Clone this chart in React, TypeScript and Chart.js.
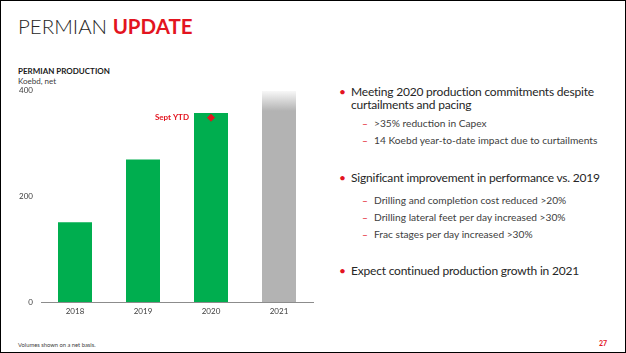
import React, { useEffect, useRef } from "react";
import { Chart, registerables } from "chart.js";

Chart.register(...registerables);

const categories = ["2018", "2019", "2020", "2021"];
const production = [151, 270, 358, 400];
const septYtd = [null, null, 349, null];
const yTicks = [0, 200, 400];

const GREEN = "#00ae4f";
const GRAY = "#b3b3b3";
const RED = "#e3141f";
const FONT = "Lato, 'Open Sans', sans-serif";

const bulletLines = [
  { kind: "main", text: "Meeting 2020 production commitments despite", y: 91 },
  { kind: "cont", text: "curtailments and pacing", y: 104 },
  { kind: "sub", text: ">35% reduction in Capex", y: 122 },
  { kind: "sub", text: "14 Koebd year-to-date impact due to curtailments", y: 139 },
  { kind: "main", text: "Significant improvement in performance vs. 2019", y: 177 },
  { kind: "sub", text: "Drilling and completion cost reduced >20%", y: 199 },
  { kind: "sub", text: "Drilling lateral feet per day increased >30%", y: 216 },
  { kind: "sub", text: "Frac stages per day increased >30%", y: 233 },
  { kind: "main", text: "Expect continued production growth in 2021", y: 270 },
];

const labelPlugin = {
  id: "septLabel",
  afterDatasetsDraw(chart: any) {
    const meta = chart.getDatasetMeta(1);
    const pt = meta.data[2];
    if (!pt) return;
    const c = chart.ctx;
    c.save();
    c.font = `bold 8px ${FONT}`;
    c.fillStyle = RED;
    c.textAlign = "right";
    c.textBaseline = "middle";
    c.fillText("Sept YTD", pt.x - 22, pt.y);
    c.restore();
  },
};

function ChartBox() {
  const ref = useRef<HTMLCanvasElement>(null);
  useEffect(() => {
    const chart = new Chart(ref.current!, {
      type: "bar",
      data: {
        labels: categories,
        datasets: [
          {
            type: "bar",
            data: production,
            barPercentage: 0.5,
            categoryPercentage: 1,
            backgroundColor: (ctx: any) => {
              if (ctx.dataIndex !== 3) return GREEN;
              const ch = ctx.chart;
              if (!ch.chartArea) return GRAY;
              const y = ch.scales.y;
              const g = ch.ctx.createLinearGradient(0, y.getPixelForValue(400), 0, y.getPixelForValue(362));
              g.addColorStop(0, "#f8f8f8");
              g.addColorStop(1, GRAY);
              return g;
            },
            order: 2,
          } as any,
          {
            type: "line",
            data: septYtd,
            showLine: false,
            pointStyle: "rectRot",
            pointRadius: 3.5,
            pointBackgroundColor: RED,
            pointBorderColor: RED,
            order: 1,
          } as any,
        ],
      },
      options: {
        animation: false,
        responsive: false,
        maintainAspectRatio: false,
        layout: { padding: { top: 0, right: 8, left: 0, bottom: 0 } },
        plugins: { legend: { display: false }, tooltip: { enabled: false } },
        scales: {
          x: {
            grid: { display: false, drawTicks: false },
            border: { display: true, color: "#8c8c8c", width: 1 },
            ticks: { color: "#404040", font: { size: 8, family: FONT }, padding: 5 },
            afterFit: (s: any) => { s.height = 19; },
          },
          y: {
            min: 0,
            max: 400,
            grid: { display: false, drawTicks: false },
            border: { display: false },
            afterBuildTicks: (s: any) => { s.ticks = yTicks.map((v) => ({ value: v })); },
            ticks: { color: "#404040", font: { size: 8, family: FONT }, padding: 8 },
            afterFit: (s: any) => { s.width = 40; },
          },
        },
      },
      plugins: [labelPlugin],
    } as any);
    return () => chart.destroy();
  }, []);
  return (
    <canvas
      ref={ref}
      width={320}
      height={243}
      style={{ position: "absolute", left: 0, top: 77, width: 320, height: 243 }}
    />
  );
}

export default function App() {
  const line = (l: any, i: number) => {
    const isMain = l.kind === "main" || l.kind === "cont";
    const size = isMain ? 12 : 10.2;
    const lh = Math.round(size * 1.2);
    const textX = isMain ? 350 : 373;
    const markX = isMain ? 338 : 361;
    return (
      <React.Fragment key={i}>
        {l.kind !== "cont" && (
          <div
            style={{
              position: "absolute",
              left: markX,
              top: l.y - lh / 2,
              lineHeight: `${lh}px`,
              fontSize: size,
              color: RED,
            }}
          >
            {l.kind === "main" ? "•" : "–"}
          </div>
        )}
        <div
          style={{
            position: "absolute",
            left: textX,
            top: l.y - lh / 2,
            lineHeight: `${lh}px`,
            fontSize: size,
            letterSpacing: isMain ? "-0.2px" : "0px",
            color: isMain ? "#262626" : "#404040",
            whiteSpace: "nowrap",
          }}
        >
          {l.text}
        </div>
      </React.Fragment>
    );
  };
  return (
    <div
      style={{
        position: "fixed",
        left: 0,
        top: 0,
        width: 626,
        height: 353,
        boxSizing: "border-box",
        border: "1px solid #000",
        background: "#fff",
        fontFamily: FONT,
        overflow: "hidden",
      }}
    >
      <div
        style={{
          position: "absolute",
          left: 17,
          top: 11,
          fontSize: 20.5,
          lineHeight: "28px",
          whiteSpace: "nowrap",
          color: "#262626",
        }}
      >
        <span style={{ fontWeight: 300 }}>PERMIAN </span>
        <span style={{ fontWeight: 700, color: RED }}>UPDATE</span>
      </div>
      <div style={{ position: "absolute", left: 17, top: 65, fontSize: 8, lineHeight: "10px", fontWeight: 700, color: "#1a1a1a" }}>
        PERMIAN PRODUCTION
      </div>
      <div style={{ position: "absolute", left: 17, top: 75, fontSize: 8, lineHeight: "10px", color: "#404040" }}>
        Koebd, net
      </div>
      <ChartBox />
      {bulletLines.map(line)}
      <div style={{ position: "absolute", left: 17, top: 340, fontSize: 5.8, lineHeight: "8px", color: "#404040", whiteSpace: "nowrap" }}>
        Volumes shown on a net basis.
      </div>
      <div style={{ position: "absolute", left: 598, top: 338, fontSize: 7, lineHeight: "9px", fontWeight: 700, color: RED }}>
        27
      </div>
    </div>
  );
}
